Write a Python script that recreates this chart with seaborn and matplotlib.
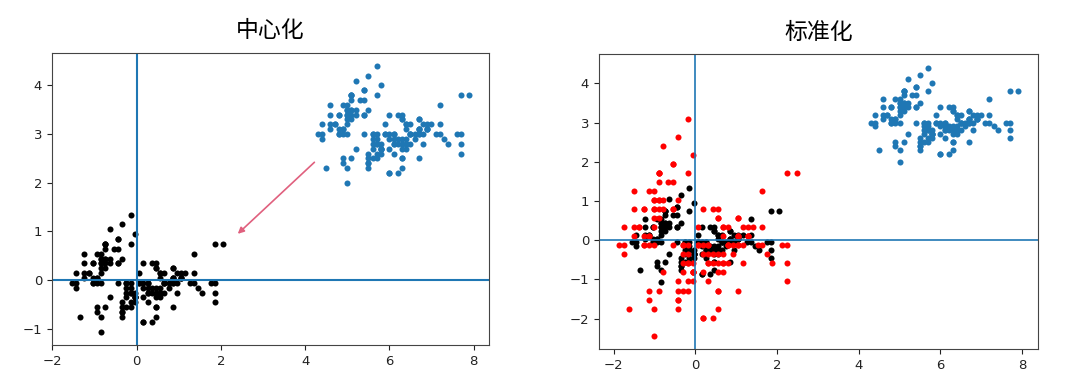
import numpy as np
import pandas as pd
import matplotlib
matplotlib.use("Agg")
import matplotlib.pyplot as plt
import seaborn as sns

# Iris sepal length / sepal width
sepal_length = [
    5.1,4.9,4.7,4.6,5.0,5.4,4.6,5.0,4.4,4.9,5.4,4.8,4.8,4.3,5.8,5.7,5.4,5.1,5.7,5.1,
    5.4,5.1,4.6,5.1,4.8,5.0,5.0,5.2,5.2,4.7,4.8,5.4,5.2,5.5,4.9,5.0,5.5,4.9,4.4,5.1,
    5.0,4.5,4.4,5.0,5.1,4.8,5.1,4.6,5.3,5.0,
    7.0,6.4,6.9,5.5,6.5,5.7,6.3,4.9,6.6,5.2,5.0,5.9,6.0,6.1,5.6,6.7,5.6,5.8,6.2,5.6,
    5.9,6.1,6.3,6.1,6.4,6.6,6.8,6.7,6.0,5.7,5.5,5.5,5.8,6.0,5.4,6.0,6.7,6.3,5.6,5.5,
    5.5,6.1,5.8,5.0,5.6,5.7,5.7,6.2,5.1,5.7,
    6.3,5.8,7.1,6.3,6.5,7.6,4.9,7.3,6.7,7.2,6.5,6.4,6.8,5.7,5.8,6.4,6.5,7.7,7.7,6.0,
    6.9,5.6,7.7,6.3,6.7,7.2,6.2,6.1,6.4,7.2,7.4,7.9,6.4,6.3,6.1,7.7,6.3,6.4,6.0,6.9,
    6.7,6.9,5.8,6.8,6.7,6.7,6.3,6.5,6.2,5.9,
]
sepal_width = [
    3.5,3.0,3.2,3.1,3.6,3.9,3.4,3.4,2.9,3.1,3.7,3.4,3.0,3.0,4.0,4.4,3.9,3.5,3.8,3.8,
    3.4,3.7,3.6,3.3,3.4,3.0,3.4,3.5,3.4,3.2,3.1,3.4,4.1,4.2,3.1,3.2,3.5,3.6,3.0,3.4,
    3.5,2.3,3.2,3.5,3.8,3.0,3.8,3.2,3.7,3.3,
    3.2,3.2,3.1,2.3,2.8,2.8,3.3,2.4,2.9,2.7,2.0,3.0,2.2,2.9,2.9,3.1,3.0,2.7,2.2,2.5,
    3.2,2.8,2.5,2.8,2.9,3.0,2.8,3.0,2.9,2.6,2.4,2.4,2.7,2.7,3.0,3.4,3.1,2.3,3.0,2.5,
    2.6,3.0,2.6,2.3,2.7,3.0,2.9,2.9,2.5,2.8,
    3.3,2.7,3.0,2.9,3.0,3.0,2.5,2.9,2.5,3.6,3.2,2.7,3.0,2.5,2.8,3.2,3.0,3.8,2.6,2.2,
    3.2,2.8,2.8,2.7,3.3,3.2,2.8,3.0,2.8,3.0,2.8,3.8,2.8,2.8,2.6,3.0,3.4,3.1,3.0,3.1,
    3.1,3.1,2.7,3.2,3.3,3.0,2.5,3.0,3.4,3.0,
]
titles = ["中心化", "标准化"]

X = np.column_stack([sepal_length, sepal_width])
Xc = X - X.mean(axis=0)
Xs = Xc / X.std(axis=0)

df_raw = pd.DataFrame(X, columns=["x", "y"])
df_c = pd.DataFrame(Xc, columns=["x", "y"])
df_s = pd.DataFrame(Xs, columns=["x", "y"])

cjk = ["Noto Sans CJK SC", "DejaVu Sans"]

fig = plt.figure(figsize=(10.8, 3.87), dpi=100)
ax1 = fig.add_axes([0.048, 0.109, 0.405, 0.755])
ax2 = fig.add_axes([0.5546, 0.098, 0.4065, 0.762])

ms = 19
# Left: centering
sns.scatterplot(data=df_raw, x="x", y="y", ax=ax1, color="#1f77b4", s=ms, linewidth=0)
sns.scatterplot(data=df_c, x="x", y="y", ax=ax1, color="black", s=ms, linewidth=0)
ax1.axhline(0, color="#1f77b4", lw=1.5)
ax1.axvline(0, color="#1f77b4", lw=1.5)
ax1.annotate("", xy=(2.4, 0.95), xytext=(4.22, 2.42),
             arrowprops=dict(arrowstyle="-|>", color="#e0607e", lw=1.2,
                             mutation_scale=9, shrinkA=0, shrinkB=0))

# Right: standardization
sns.scatterplot(data=df_raw, x="x", y="y", ax=ax2, color="#1f77b4", s=ms, linewidth=0)
sns.scatterplot(data=df_c, x="x", y="y", ax=ax2, color="black", s=ms, linewidth=0)
sns.scatterplot(data=df_s, x="x", y="y", ax=ax2, color="red", s=ms, linewidth=0)
ax2.axhline(0, color="#1f77b4", lw=1.2)
ax2.axvline(0, color="#1f77b4", lw=1.2)

for ax, t in zip([ax1, ax2], titles):
    ax.set_xlabel("")
    ax.set_ylabel("")
    ax.set_title(t, family=cjk, fontsize=16.5, pad=11)
    ax.tick_params(labelsize=9.5, colors="#222222")
    for sp in ax.spines.values():
        sp.set_color("#444444")
    ax.set_xticks([-2, 0, 2, 4, 6, 8])

ax1.set_yticks([-1, 0, 1, 2, 3, 4])
ax2.set_yticks([-2, -1, 0, 1, 2, 3, 4])

fig.savefig("out.png", dpi=100)
